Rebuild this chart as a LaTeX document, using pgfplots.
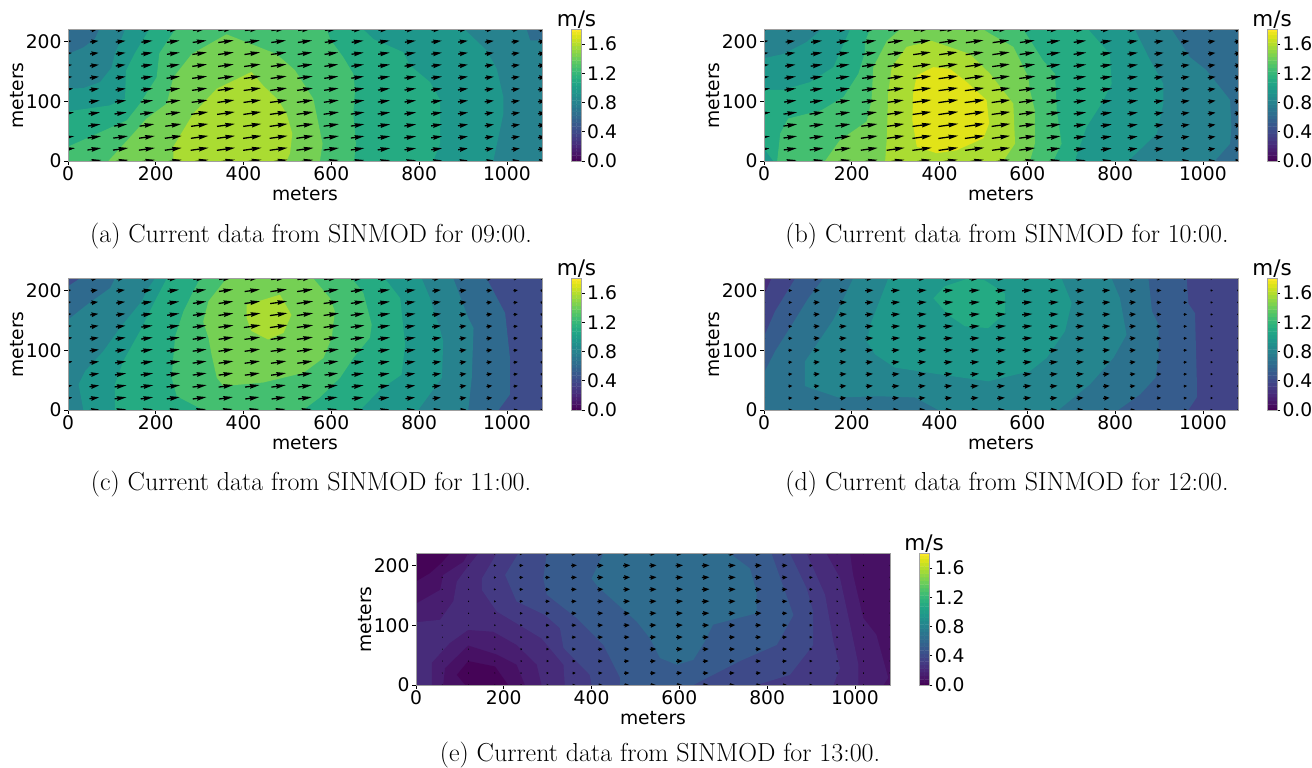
\documentclass[border=0pt]{standalone}
\usepackage{fontspec}
\usepackage{pgfplots}
\pgfplotsset{compat=1.18}
\usetikzlibrary{arrows.meta}
\newfontfamily\dv{DejaVu Sans}
\definecolor{v35}{HTML}{2F6C8E}\definecolor{v44}{HTML}{27828E}\definecolor{v52}{HTML}{1F978B}
\definecolor{v61}{HTML}{25AB82}\definecolor{v70}{HTML}{44BF70}\definecolor{v79}{HTML}{75D054}
\definecolor{v87}{HTML}{AADC32}\definecolor{v96}{HTML}{E1E318}
\definecolor{d13}{HTML}{472D7B}\definecolor{d21}{HTML}{414487}\definecolor{d29}{HTML}{365C8D}
\definecolor{d37}{HTML}{2C728E}\definecolor{d45}{HTML}{25858E}\definecolor{d53}{HTML}{1F988B}\definecolor{d60}{HTML}{24AA83}
\definecolor{c22}{HTML}{3E4C8A}\definecolor{c36}{HTML}{2F6A8E}
\definecolor{e0}{HTML}{450457}\definecolor{e1}{HTML}{471164}\definecolor{e2}{HTML}{481E70}\definecolor{e3}{HTML}{472C7A}
\definecolor{e4}{HTML}{443A83}\definecolor{e5}{HTML}{3E4A89}\definecolor{e6}{HTML}{375B8D}\definecolor{e7}{HTML}{2F6C8E}
\pgfplotsset{
 mainax/.style={scale only axis,width=474pt,height=131.5pt,xmin=0,xmax=1080,ymin=0,ymax=220,
  axis on top,xtick={0,200,400,600,800,1000},ytick={0,100,200},tick align=outside,tick pos=left,
  major tick length=4pt,axis line style={gray!75,line width=0.7pt},
  every tick/.style={black,line width=0.7pt},
  tick label style={font=\dv\fontsize{18.7}{21}\selectfont},
  /pgf/number format/assume math mode=true,/pgf/number format/1000 sep={},
  xlabel=meters,ylabel=meters,
  label style={font=\dv\fontsize{18.7}{21}\selectfont},
  x label style={at={(axis description cs:0.5,0)},anchor=center,yshift=-33pt},
  y label style={at={(axis description cs:0,0.5)},anchor=center,yshift=51pt},
  xticklabel style={yshift=2pt},yticklabel style={xshift=1pt},
  point meta min=0,point meta max=1.75},
 cbax/.style={scale only axis,width=10pt,height=131.5pt,xmin=0,xmax=1,ymin=0,ymax=1.8,
  axis on top,xtick=\empty,ytick={0,0.4,0.8,1.2,1.6},yticklabels={0.0,0.4,0.8,1.2,1.6},
  tick align=outside,ytick pos=right,major tick length=3pt,
  axis line style={gray!70,line width=0.8pt},every tick/.style={black,line width=0.7pt},
  tick label style={font=\dv\fontsize{18.7}{21}\selectfont},
  /pgf/number format/assume math mode=true,yticklabel style={xshift=-1pt},
  colormap/viridis,point meta min=0,point meta max=1.8},
 }
\newcommand\band[2]{\addplot[fill=#1,draw=none,forget plot] coordinates {#2} --cycle;}
\newcommand\cbar{\addplot[matrix plot*,mesh/cols=2,point meta=y,forget plot] coordinates {
 (0,0)(1,0) (0,0.05)(1,0.05) (0,0.1)(1,0.1) (0,0.15)(1,0.15) (0,0.2)(1,0.2) (0,0.25)(1,0.25) (0,0.3)(1,0.3) (0,0.35)(1,0.35) (0,0.4)(1,0.4)
 (0,0.45)(1,0.45) (0,0.5)(1,0.5) (0,0.55)(1,0.55) (0,0.6)(1,0.6) (0,0.65)(1,0.65) (0,0.7)(1,0.7) (0,0.75)(1,0.75) (0,0.8)(1,0.8)
 (0,0.85)(1,0.85) (0,0.9)(1,0.9) (0,0.95)(1,0.95) (0,1)(1,1) (0,1.05)(1,1.05) (0,1.1)(1,1.1) (0,1.15)(1,1.15) (0,1.2)(1,1.2)
 (0,1.25)(1,1.25) (0,1.3)(1,1.3) (0,1.35)(1,1.35) (0,1.4)(1,1.4) (0,1.45)(1,1.45) (0,1.5)(1,1.5) (0,1.55)(1,1.55) (0,1.6)(1,1.6)
 (0,1.65)(1,1.65) (0,1.7)(1,1.7) (0,1.75)(1,1.75) (0,1.8)(1,1.8)};}
% quiver: values listed row by row from y=220 to y=0, columns x=0,60,...,1080 ; #1 #2 = arrow scale in data units
\pgfplotsset{qv/.style 2 args={black,forget plot,point meta=\thisrow{s},
  quiver={u=\thisrow{s}*#1,v=\thisrow{s}*#2,
   every arrow/.style={/utils/exec={%
     \pgfmathsetmacro\hl{round(4*min(9.5,0.016*\pgfplotspointmetatransformed))/4+0.25}%
     \pgfmathsetmacro\hw{round(4*min(4.3,0.011*\pgfplotspointmetatransformed+0.7))/4+0.25}%
     \pgfmathsetmacro\ins{0.1*\hl}%
     \pgfmathsetmacro\lw{min(1.3,0.3+0.004*\pgfplotspointmetatransformed)}},
     line width=\lw pt,-{Stealth[length=\hl pt,width=\hw pt,inset=\ins pt]}}}}}
\newcommand\qtable[3]{\addplot[qv={#1}{#2}] table[row sep=\\,
  x expr={mod(\coordindex,19)*60-\thisrow{s}*#1/2},
  y expr={220-floor(\coordindex/19)*20-\thisrow{s}*#2/2}] {s\\#3};}
\begin{document}
\begin{tikzpicture}
\path[use as bounding box] (0,0) rectangle (1312pt,768pt);
% ---------- (a)
\begin{axis}[mainax,at={(68pt,607pt)}]
\band{v35}{(0,0)(0,220)(1080,220)(1080,0)}
\band{v44}{(0,0)(0,179)(35,190)(61,204)(71,220)(1045,220)(1053,202)(1080,202)(1080,0)}
\band{v52}{(0,0)(0,121)(35,122)(73,132)(99,156)(107,180)(122,205)(130,220)(904,220)(954,185)(977,154)(992,107)(992,79)(969,0)}
\band{v61}{(0,0)(0,83)(95,93)(130,104)(132,151)(152,180)(182,216)(184,220)(673,220)(696,204)(764,182)(779,160)(825,132)(848,102)(848,29)(832,0)}
\band{v70}{(0,0)(0,24)(58,43)(134,68)(164,96)(202,140)(208,180)(244,220)(590,220)(597,204)(627,174)(650,146)(654,118)(650,79)(656,29)(652,0)}
\band{v79}{(92,0)(149,46)(179,71)(225,96)(240,140)(282,179)(361,212)(475,179)(517,152)(559,104)(580,29)(574,0)}
\band{v87}{(240,0)(240,24)(285,79)(339,121)(418,149)(445,126)(479,102)(498,79)(511,46)(506,13)(498,0)}
\qtable{25.9}{2.67}{.62\\.70\\.85\\.95\\1.1\\1.2\\1.35\\1.32\\1.28\\1.2\\1.12\\1.05\\.98\\.95\\.9\\.85\\.75\\.7\\.6\\
.62\\.72\\.85\\.98\\1.12\\1.22\\1.36\\1.36\\1.3\\1.25\\1.15\\1.05\\1\\.95\\.9\\.85\\.77\\.72\\.62\\
.68\\.75\\.85\\1\\1.12\\1.28\\1.38\\1.38\\1.38\\1.28\\1.2\\1.08\\1.02\\.98\\.92\\.85\\.77\\.72\\.68\\
.7\\.78\\.87\\1\\1.15\\1.3\\1.38\\1.45\\1.38\\1.32\\1.22\\1.1\\1.05\\1\\.92\\.85\\.77\\.72\\.68\\
.75\\.8\\.88\\1.02\\1.2\\1.32\\1.42\\1.5\\1.42\\1.35\\1.25\\1.12\\1.05\\1.02\\.95\\.87\\.78\\.72\\.68\\
.77\\.85\\.9\\1.05\\1.22\\1.35\\1.45\\1.52\\1.48\\1.4\\1.28\\1.18\\1.05\\1.02\\.95\\.88\\.8\\.74\\.7\\
.9\\.95\\1\\1.1\\1.28\\1.4\\1.5\\1.55\\1.53\\1.42\\1.32\\1.2\\1.08\\1.02\\.98\\.88\\.8\\.75\\.7\\
1\\1.02\\1.08\\1.2\\1.32\\1.5\\1.55\\1.58\\1.55\\1.47\\1.35\\1.2\\1.1\\1.05\\.98\\.88\\.8\\.75\\.7\\
1.05\\1.1\\1.18\\1.3\\1.42\\1.52\\1.58\\1.6\\1.58\\1.5\\1.35\\1.2\\1.1\\1.05\\.98\\.88\\.8\\.75\\.7\\
1.12\\1.18\\1.3\\1.38\\1.5\\1.55\\1.6\\1.62\\1.58\\1.52\\1.35\\1.2\\1.1\\1.05\\.97\\.87\\.78\\.74\\.7\\
1.2\\1.22\\1.35\\1.42\\1.5\\1.58\\1.6\\1.62\\1.58\\1.5\\1.35\\1.2\\1.1\\1.02\\.95\\.85\\.77\\.72\\.68\\
1.2\\1.25\\1.38\\1.45\\1.5\\1.55\\1.58\\1.6\\1.55\\1.47\\1.32\\1.2\\1.08\\1\\.93\\.85\\.75\\.7\\.68\\}
\end{axis}
\begin{axis}[cbax,at={(571.7pt,607pt)}]\cbar\end{axis}
\node[font=\dv\fontsize{21.5}{24}\selectfont,anchor=base] at (576.5pt,741pt) {m/s};
\node[font=\fontsize{26}{30}\selectfont,anchor=base] at (311pt,525pt) {(a) Current data from SINMOD for 09:00.};
% ---------- (b)
\begin{axis}[mainax,at={(764pt,607pt)}]
\band{v35}{(0,0)(0,220)(1080,220)(1080,0)}
\band{v44}{(0,0)(0,220)(929,220)(970,174)(1008,152)(1062,102)(1065,57)(1062,29)(1027,0)}
\band{v52}{(0,0)(0,172)(44,179)(97,199)(131,220)(845,220)(876,174)(910,129)(910,96)(895,46)(830,0)}
\band{v61}{(21,0)(0,21)(0,119)(44,119)(105,132)(158,157)(196,220)(739,220)(788,179)(792,129)(769,96)(735,57)(708,0)}
\band{v70}{(30,0)(37,46)(55,71)(131,85)(181,107)(215,146)(230,182)(230,199)(241,220)(591,220)(636,168)(663,146)(667,85)(678,29)(659,0)}
\band{v79}{(139,0)(173,35)(234,66)(245,102)(249,157)(280,201)(310,220)(500,220)(515,213)(568,191)(602,141)(606,118)(617,85)(617,29)(606,0)}
\band{v87}{(276,0)(280,40)(283,113)(291,157)(325,191)(382,201)(469,179)(515,146)(568,96)(572,29)(545,0)}
\band{v96}{(348,24)(338,68)(340,113)(348,143)(386,157)(424,154)(462,132)(507,102)(513,63)(500,38)(439,18)(393,13)}
\qtable{25.9}{2.67}{.75\\.78\\.95\\1.05\\1.2\\1.3\\1.42\\1.5\\1.48\\1.4\\1.28\\1.15\\1.05\\.98\\.88\\.8\\.72\\.65\\.58\\
.75\\.82\\.98\\1.1\\1.22\\1.38\\1.5\\1.58\\1.55\\1.48\\1.32\\1.18\\1.1\\1\\.9\\.8\\.72\\.65\\.6\\
.78\\.88\\1.02\\1.12\\1.25\\1.4\\1.55\\1.6\\1.58\\1.52\\1.35\\1.2\\1.12\\1.02\\.9\\.8\\.72\\.65\\.6\\
.85\\.92\\1.05\\1.15\\1.27\\1.42\\1.6\\1.68\\1.62\\1.55\\1.38\\1.22\\1.12\\1.02\\.92\\.82\\.74\\.66\\.6\\
.92\\1\\1.08\\1.2\\1.28\\1.42\\1.62\\1.72\\1.7\\1.58\\1.42\\1.25\\1.12\\1.02\\.92\\.82\\.75\\.68\\.6\\
1\\1.03\\1.1\\1.22\\1.3\\1.45\\1.65\\1.72\\1.72\\1.62\\1.45\\1.25\\1.12\\1.02\\.92\\.84\\.76\\.68\\.6\\
1.05\\1.1\\1.15\\1.25\\1.32\\1.45\\1.65\\1.75\\1.75\\1.65\\1.45\\1.25\\1.1\\1\\.92\\.84\\.76\\.68\\.6\\
1.1\\1.2\\1.25\\1.28\\1.35\\1.48\\1.65\\1.75\\1.75\\1.65\\1.45\\1.25\\1.1\\1\\.9\\.82\\.75\\.68\\.6\\
1.1\\1.22\\1.25\\1.32\\1.42\\1.52\\1.68\\1.75\\1.75\\1.65\\1.42\\1.25\\1.08\\.98\\.9\\.8\\.75\\.68\\.6\\
1.05\\1.2\\1.25\\1.38\\1.48\\1.55\\1.68\\1.75\\1.72\\1.6\\1.42\\1.22\\1.08\\.95\\.88\\.8\\.74\\.66\\.6\\
.95\\1.15\\1.22\\1.4\\1.5\\1.58\\1.7\\1.72\\1.7\\1.58\\1.4\\1.2\\1.05\\.95\\.85\\.78\\.72\\.64\\.6\\
.9\\1.1\\1.2\\1.35\\1.48\\1.55\\1.62\\1.65\\1.6\\1.52\\1.38\\1.2\\1.02\\.92\\.82\\.75\\.7\\.62\\.58\\}
\end{axis}
\begin{axis}[cbax,at={(1267pt,607pt)}]\cbar\end{axis}
\node[font=\dv\fontsize{21.5}{24}\selectfont,anchor=base] at (1272pt,741pt) {m/s};
\node[font=\fontsize{26}{30}\selectfont,anchor=base] at (1007pt,525pt) {(b) Current data from SINMOD for 10:00.};
% ---------- (c)
\begin{axis}[mainax,at={(68pt,358pt)}]
\band{c22}{(0,0)(0,220)(1080,220)(1080,0)}
\band{c36}{(0,0)(0,207)(27,220)(954,220)(996,162)(1007,87)(1007,26)(981,0)}
\band{v44}{(0,0)(0,151)(43,176)(96,204)(107,220)(878,220)(912,154)(924,137)(920,54)(912,0)}
\band{v52}{(35,0)(24,43)(39,65)(80,98)(118,137)(168,182)(183,204)(198,220)(806,220)(825,187)(848,134)(855,115)(852,54)(798,0)}
\band{v61}{(107,0)(107,43)(126,82)(164,132)(202,188)(225,220)(722,220)(757,187)(768,109)(760,59)(711,34)(666,0)}
\band{v70}{(308,0)(248,23)(236,54)(244,123)(263,165)(285,198)(301,220)(647,220)(673,196)(692,143)(688,121)(650,87)(620,54)(574,21)(536,0)}
\band{v79}{(354,40)(339,54)(327,93)(320,121)(308,148)(320,182)(361,220)(559,220)(597,187)(608,165)(601,121)(582,87)(536,62)(445,46)}
\band{v87}{(407,176)(483,193)(509,159)(491,129)(456,118)(418,132)(407,154)}
\qtable{25.9}{2.67}{.5\\.62\\.72\\.9\\1\\1.12\\1.2\\1.3\\1.35\\1.35\\1.25\\1.15\\1.02\\.9\\.75\\.62\\.5\\.38\\.25\\
.55\\.62\\.75\\.9\\1.02\\1.15\\1.25\\1.35\\1.45\\1.4\\1.3\\1.18\\1.05\\.92\\.75\\.62\\.5\\.38\\.25\\
.58\\.65\\.78\\.95\\1.05\\1.18\\1.3\\1.38\\1.5\\1.45\\1.35\\1.2\\1.05\\.92\\.75\\.62\\.5\\.38\\.25\\
.62\\.7\\.82\\.98\\1.08\\1.18\\1.32\\1.45\\1.55\\1.45\\1.35\\1.22\\1.08\\.92\\.78\\.62\\.52\\.38\\.25\\
.65\\.75\\.85\\1\\1.12\\1.22\\1.32\\1.48\\1.55\\1.45\\1.35\\1.22\\1.08\\.92\\.78\\.62\\.52\\.38\\.25\\
.68\\.78\\.9\\1.02\\1.15\\1.22\\1.3\\1.38\\1.42\\1.42\\1.32\\1.22\\1.08\\.95\\.78\\.62\\.52\\.38\\.25\\
.72\\.8\\.92\\1.05\\1.15\\1.22\\1.32\\1.36\\1.4\\1.4\\1.32\\1.18\\1.05\\.92\\.75\\.62\\.52\\.38\\.25\\
.75\\.82\\.95\\1.08\\1.18\\1.22\\1.3\\1.35\\1.36\\1.36\\1.25\\1.12\\1.02\\.9\\.75\\.6\\.5\\.38\\.25\\
.75\\.85\\1\\1.1\\1.2\\1.22\\1.28\\1.32\\1.33\\1.3\\1.2\\1.08\\1\\.88\\.75\\.6\\.5\\.38\\.25\\
.75\\.85\\1.05\\1.12\\1.2\\1.25\\1.28\\1.28\\1.28\\1.22\\1.15\\1.05\\.98\\.88\\.75\\.6\\.5\\.38\\.25\\
.72\\.85\\1.05\\1.1\\1.15\\1.22\\1.25\\1.25\\1.25\\1.2\\1.12\\1.02\\.95\\.85\\.72\\.6\\.5\\.38\\.25\\
.7\\.82\\1\\1.05\\1.12\\1.15\\1.2\\1.22\\1.22\\1.15\\1.08\\1\\.92\\.82\\.7\\.58\\.48\\.36\\.24\\}
\end{axis}
\begin{axis}[cbax,at={(571.7pt,358pt)}]\cbar\end{axis}
\node[font=\dv\fontsize{21.5}{24}\selectfont,anchor=base] at (576.5pt,492.5pt) {m/s};
\node[font=\fontsize{26}{30}\selectfont,anchor=base] at (311pt,277pt) {(c) Current data from SINMOD for 11:00.};
% ---------- (d)
\begin{axis}[mainax,at={(764pt,358pt)}]
\band{d13}{(0,0)(0,220)(1080,220)(1080,0)}
\band{d21}{(0,0)(0,192)(17,220)(1080,220)(1080,0)}
\band{d29}{(0,0)(0,123)(25,165)(71,220)(963,220)(967,178)(982,162)(986,54)(986,21)(967,0)}
\band{d37}{(0,0)(0,62)(25,98)(63,142)(101,187)(135,220)(876,220)(884,165)(899,143)(899,87)(892,54)(857,26)(807,0)}
\band{d45}{(93,40)(93,81)(112,101)(158,151)(203,220)(792,220)(811,187)(826,126)(796,87)(743,43)(671,0)(397,0)(344,21)(260,23)(169,21)}
\band{d53}{(283,220)(245,148)(234,115)(253,93)(298,71)(405,59)(511,48)(606,65)(644,87)(686,132)(701,179)(678,220)}
\band{d60}{(386,187)(412,207)(465,220)(503,217)(549,195)(549,162)(511,137)(458,140)(420,159)}
\qtable{26.0}{1.68}{.3\\.3\\.55\\.68\\.72\\.78\\.82\\.88\\.92\\.92\\.9\\.88\\.75\\.7\\.58\\.42\\.3\\.2\\.1\\
.28\\.3\\.55\\.68\\.72\\.78\\.82\\.88\\.92\\.92\\.9\\.88\\.75\\.7\\.58\\.42\\.3\\.2\\.1\\
.25\\.3\\.55\\.68\\.72\\.78\\.82\\.88\\.92\\.92\\.9\\.88\\.75\\.7\\.58\\.42\\.3\\.2\\.1\\
.22\\.3\\.55\\.68\\.72\\.78\\.82\\.85\\.92\\.92\\.9\\.85\\.75\\.68\\.58\\.42\\.3\\.2\\.1\\
.2\\.32\\.55\\.65\\.72\\.76\\.82\\.85\\.9\\.9\\.88\\.85\\.75\\.68\\.58\\.42\\.3\\.2\\.1\\
.2\\.35\\.55\\.65\\.7\\.76\\.8\\.82\\.85\\.88\\.85\\.85\\.75\\.66\\.55\\.42\\.3\\.2\\.1\\
.2\\.35\\.55\\.62\\.68\\.72\\.78\\.8\\.82\\.85\\.82\\.82\\.72\\.65\\.55\\.42\\.3\\.2\\.1\\
.18\\.35\\.55\\.62\\.66\\.7\\.75\\.78\\.8\\.82\\.8\\.78\\.7\\.62\\.52\\.42\\.3\\.2\\.1\\
.18\\.35\\.55\\.6\\.65\\.68\\.7\\.72\\.75\\.78\\.78\\.72\\.68\\.6\\.5\\.42\\.3\\.2\\.1\\
.18\\.35\\.5\\.58\\.62\\.65\\.66\\.68\\.7\\.72\\.72\\.68\\.65\\.58\\.48\\.4\\.3\\.2\\.1\\
.18\\.35\\.5\\.55\\.58\\.6\\.6\\.62\\.66\\.68\\.68\\.65\\.6\\.55\\.45\\.38\\.3\\.2\\.1\\
.18\\.35\\.48\\.52\\.55\\.55\\.55\\.58\\.62\\.65\\.65\\.6\\.58\\.5\\.42\\.35\\.28\\.18\\.1\\}
\end{axis}
\begin{axis}[cbax,at={(1267pt,358pt)}]\cbar\end{axis}
\node[font=\dv\fontsize{21.5}{24}\selectfont,anchor=base] at (1272pt,492.5pt) {m/s};
\node[font=\fontsize{26}{30}\selectfont,anchor=base] at (1007pt,277pt) {(d) Current data from SINMOD for 12:00.};
% ---------- (e)
\begin{axis}[mainax,at={(416pt,83pt)}]
\band{e0}{(0,0)(0,220)(1080,220)(1080,0)}
\band{e1}{(0,0)(0,173)(32,187)(58,204)(77,220)(1080,220)(1080,0)}
\band{e2}{(0,0)(0,136)(55,159)(62,184)(108,206)(119,220)(989,220)(996,184)(1019,112)(1049,84)(1076,12)(1065,0)}
\band{e3}{(0,0)(0,105)(55,109)(85,140)(93,173)(115,195)(142,220)(935,220)(966,179)(989,101)(1008,34)(1008,0)}
\band{e2}{(36,0)(36,37)(77,70)(119,92)(176,89)(229,67)(275,34)(286,0)}
\band{e1}{(62,0)(66,28)(119,66)(184,51)(229,34)(248,0)}
\band{e0}{(93,17)(119,40)(180,31)(210,0)(112,0)}
\band{e4}{(184,220)(150,178)(150,159)(184,123)(286,78)(336,34)(339,0)(951,0)(966,28)(951,73)(932,151)(890,220)}
\band{e5}{(233,220)(203,184)(229,140)(294,117)(328,95)(336,62)(396,17)(400,0)(776,0)(852,17)(905,67)(905,123)(890,162)(852,220)}
\band{e6}{(298,220)(290,178)(298,151)(366,112)(427,67)(465,12)(465,0)(632,0)(738,40)(822,67)(860,117)(810,220)}
\band{e7}{(427,220)(400,178)(415,164)(503,106)(533,78)(556,45)(594,34)(632,42)(658,73)(677,101)(776,120)(776,156)(761,195)(715,220)}
\qtable{26.2}{1.0}{.06\\.05\\.1\\.22\\.35\\.42\\.5\\.55\\.6\\.62\\.65\\.65\\.65\\.6\\.48\\.3\\.12\\.07\\.04\\
.06\\.05\\.1\\.22\\.35\\.42\\.5\\.55\\.6\\.62\\.65\\.65\\.65\\.6\\.48\\.3\\.12\\.07\\.04\\
.05\\.05\\.1\\.2\\.34\\.42\\.5\\.55\\.6\\.62\\.65\\.65\\.65\\.6\\.48\\.3\\.12\\.07\\.04\\
.05\\.05\\.1\\.18\\.32\\.4\\.48\\.52\\.58\\.62\\.65\\.65\\.65\\.58\\.48\\.28\\.12\\.07\\.04\\
.05\\.05\\.08\\.16\\.3\\.38\\.46\\.5\\.58\\.62\\.65\\.65\\.62\\.56\\.46\\.28\\.12\\.07\\.04\\
.05\\.05\\.07\\.14\\.26\\.35\\.44\\.5\\.55\\.6\\.62\\.62\\.6\\.55\\.45\\.28\\.12\\.07\\.04\\
.05\\.05\\.06\\.12\\.22\\.32\\.42\\.48\\.52\\.58\\.6\\.58\\.55\\.52\\.42\\.26\\.12\\.08\\.04\\
.05\\.04\\.05\\.1\\.18\\.28\\.38\\.46\\.5\\.55\\.58\\.55\\.52\\.5\\.42\\.26\\.13\\.08\\.04\\
.05\\.04\\.04\\.08\\.15\\.24\\.35\\.42\\.5\\.55\\.58\\.52\\.5\\.48\\.4\\.26\\.14\\.08\\.04\\
.05\\.04\\.03\\.06\\.12\\.2\\.3\\.4\\.46\\.5\\.55\\.5\\.48\\.46\\.4\\.26\\.14\\.08\\.04\\
.05\\.03\\.03\\.04\\.1\\.18\\.28\\.38\\.45\\.48\\.5\\.5\\.46\\.44\\.38\\.26\\.14\\.08\\.04\\
.05\\.03\\.03\\.04\\.1\\.16\\.26\\.36\\.42\\.46\\.48\\.48\\.46\\.42\\.36\\.26\\.14\\.08\\.04\\}
\end{axis}
\begin{axis}[cbax,at={(919.3pt,83pt)}]\cbar\end{axis}
\node[font=\dv\fontsize{21.5}{24}\selectfont,anchor=base] at (924pt,217pt) {m/s};
\node[font=\fontsize{26}{30}\selectfont,anchor=base] at (660pt,6.6pt) {(e) Current data from SINMOD for 13:00.};
\end{tikzpicture}
\end{document}
